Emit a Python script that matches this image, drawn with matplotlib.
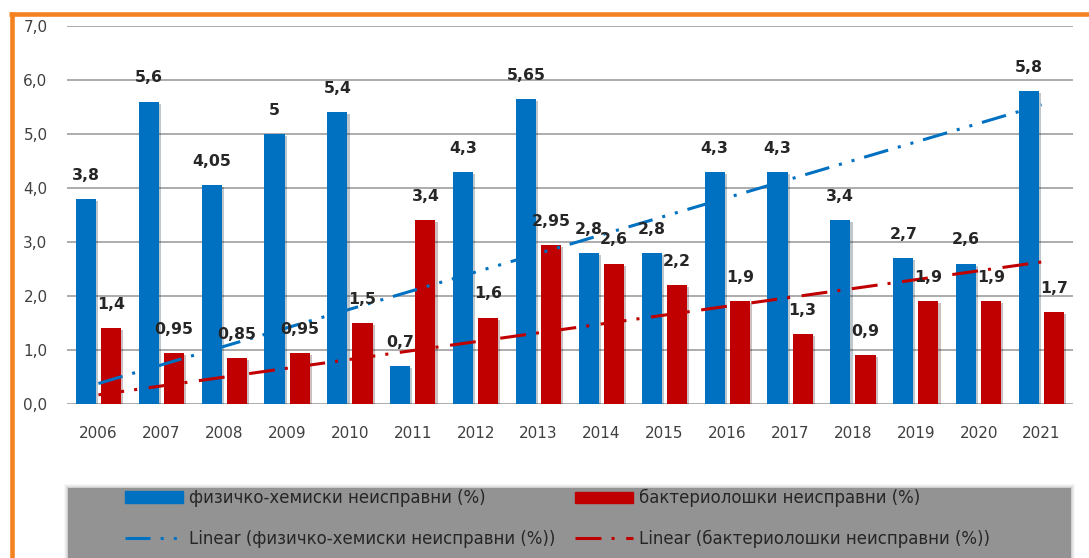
import numpy as np
import matplotlib.pyplot as plt
from matplotlib.patches import Rectangle, Patch
from matplotlib.lines import Line2D
from matplotlib import patheffects as pe

plt.rcParams['font.family'] = ['DejaVu Sans']

years = ['2006', '2007', '2008', '2009', '2010', '2011', '2012', '2013',
         '2014', '2015', '2016', '2017', '2018', '2019', '2020', '2021']
phys = [3.8, 5.6, 4.05, 5, 5.4, 0.7, 4.3, 5.65, 2.8, 2.8, 4.3, 4.3, 3.4, 2.7, 2.6, 5.8]
bact = [1.4, 0.95, 0.85, 0.95, 1.5, 3.4, 1.6, 2.95, 2.6, 2.2, 1.9, 1.3, 0.9, 1.9, 1.9, 1.7]
# trend line values at first and last year
phys_trend = [0.38, 5.54]
bact_trend = [0.17, 2.63]

name_phys = 'физичко-хемиски неисправни (%)'
name_bact = 'бактериолошки неисправни (%)'

BLUE = '#0070C0'
RED = '#C00000'
TXT = '#262626'

W, H = 1089, 558
fig = plt.figure(figsize=(W / 100, H / 100), dpi=100)
ax = fig.add_axes([67 / W, (H - 404) / H, (1073 - 67) / W, (404 - 26) / H])

x = np.arange(len(years))
shadow = [pe.SimplePatchShadow(offset=(1.5, -1.5), alpha=0.25), pe.Normal()]
b1 = ax.bar(x - 0.2, phys, 0.32, color=BLUE, zorder=2)
b2 = ax.bar(x + 0.2, bact, 0.32, color=RED, zorder=2)
for p in list(b1) + list(b2):
    p.set_path_effects(shadow)

def fmt(v):
    return f'{v:g}'.replace('.', ',')

for xi, v in zip(x, phys):
    ax.annotate(fmt(v), (xi - 0.2, v), xytext=(0, 17), textcoords='offset points',
                ha='center', va='center', fontsize=11.3, fontweight='bold', color=TXT, zorder=4)
for xi, v in zip(x, bact):
    ax.annotate(fmt(v), (xi + 0.2, v), xytext=(0, 17), textcoords='offset points',
                ha='center', va='center', fontsize=11.3, fontweight='bold', color=TXT, zorder=4)

# linear trends
lw = 2.2
tx = [x[0], x[-1]]
l1, = ax.plot(tx, phys_trend, color=BLUE, lw=lw, zorder=3,
              dashes=(8.2, 3.3, 1, 3.3, 1, 3.3), solid_capstyle='butt', dash_capstyle='butt')
l2, = ax.plot(tx, bact_trend, color=RED, lw=lw, zorder=3,
              dashes=(8.5, 3.3, 1, 3.8), solid_capstyle='butt', dash_capstyle='butt')

ax.set_xlim(-0.5, 15.5)
ax.set_ylim(0, 7)
ax.set_yticks(np.arange(0, 7.1, 1))
ax.set_yticklabels([f'{v:.1f}'.replace('.', ',') for v in np.arange(0, 7.1, 1)])
ax.set_xticks(x)
ax.set_xticklabels(years)
ax.tick_params(length=0, labelsize=11, colors='#404040')
ax.tick_params(axis='y', pad=14)
ax.tick_params(axis='x', pad=15.5)
ax.grid(axis='y', color='#a6a6a6', lw=1.3, zorder=0)
ax.set_axisbelow(True)
for s in ax.spines.values():
    s.set_visible(False)

# legend panel with a soft edge
x0, x1, top = 68, 1071, 488
for grow, a in [(4, 0.05), (3, 0.07), (2, 0.1), (1, 0.15)]:
    fig.patches.append(Rectangle(((x0 - grow) / W, 0), (x1 - x0 + 2 * grow) / W,
                                 (H - top + grow) / H, transform=fig.transFigure,
                                 color='#707070', alpha=a, lw=0, zorder=0))
fig.patches.append(Rectangle((x0 / W, 0), (x1 - x0) / W, (H - top) / H,
                             transform=fig.transFigure, color='#939393', lw=0, zorder=0))

h1 = Patch(color=BLUE)
h2 = Patch(color=RED)
lg_kw = dict(frameon=False, fontsize=12, labelcolor=TXT, handlelength=3.5,
             handleheight=0.7, handletextpad=0.35, labelspacing=1.35,
             borderpad=0, borderaxespad=0, loc='upper left')
leg1 = fig.legend([h1, l1], [name_phys, 'Linear (' + name_phys + ')'],
                  bbox_to_anchor=(125 / W, 1 - 489 / H), **lg_kw)
leg2 = fig.legend([h2, l2], [name_bact, 'Linear (' + name_bact + ')'],
                  bbox_to_anchor=(575 / W, 1 - 489 / H), **lg_kw)

# orange frame
fig.add_artist(Line2D([9 / W, 1], [1 - 14 / H, 1 - 14 / H], transform=fig.transFigure,
                      color='#F58220', lw=3.3, solid_capstyle='butt'))
fig.add_artist(Line2D([12 / W, 12 / W], [0, 1 - 12 / H], transform=fig.transFigure,
                      color='#F58220', lw=3.3, solid_capstyle='butt'))

fig.savefig('out.png', dpi=100)
